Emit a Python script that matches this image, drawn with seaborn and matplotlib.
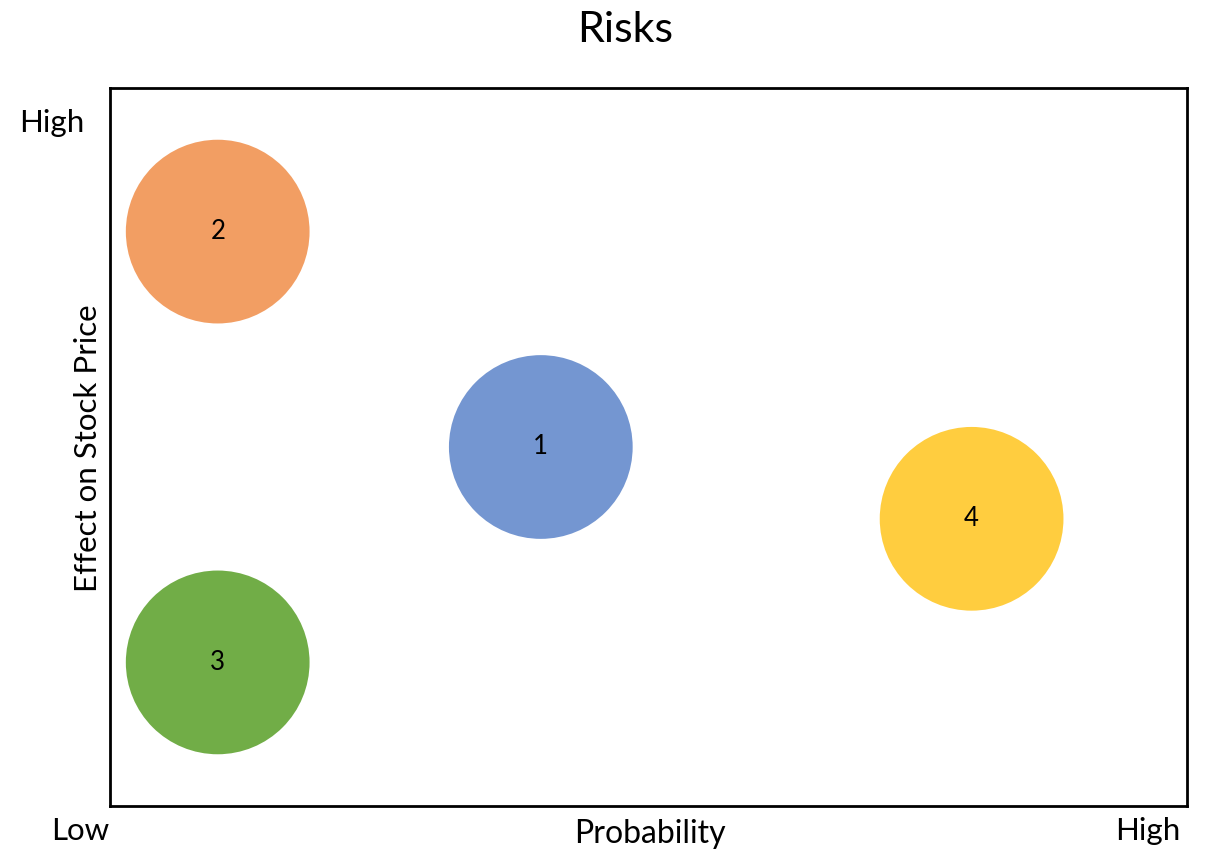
#%%
import matplotlib
matplotlib.use("Agg")
import matplotlib.pyplot as plt
import seaborn as sns
import pandas as pd

#%% data
risk_ids = ["1", "2", "3", "4"]
probability = [4, 1, 1, 8]
effect = [5, 8, 2, 4]
colors = ["#7496D1", "#F29E63", "#71AD47", "#FFCD3F"]

df = pd.DataFrame({"risk": risk_ids, "probability": probability, "effect": effect})

#%% plot
sns.set_style("white")
plt.rcParams["font.family"] = ["Lato", "DejaVu Sans"]
plt.rcParams["text.color"] = "black"

W, H = 1205, 852
fig = plt.figure(figsize=(W / 100, H / 100), dpi=100)
ax = fig.add_axes([110 / W, 46 / H, 1077 / W, 718 / H])

sns.scatterplot(data=df, x="probability", y="effect", hue="risk",
                palette=colors, s=17500, linewidth=0, alpha=1,
                legend=False, ax=ax, zorder=3)

for _, row in df.iterrows():
    ax.text(row["probability"], row["effect"], row["risk"],
            ha="center", va="center", fontsize=18.5, color="black", zorder=4)

ax.set_xlim(0, 10)
ax.set_ylim(0, 10)
ax.set_xticks([])
ax.set_yticks([])
ax.set_xlabel("")
ax.set_ylabel("")
for sp in ax.spines.values():
    sp.set_visible(True)
    sp.set_color("black")
    sp.set_linewidth(2)

# text around the frame
fig.text(625 / W, 1 - 30 / H, "Risks", ha="center", va="center", fontsize=31)
fig.text(52 / W, 1 - 123 / H, "High", ha="center", va="center", fontsize=22.5)
fig.text(80 / W, 1 - 831 / H, "Low", ha="center", va="center", fontsize=22.5)
fig.text(1148 / W, 1 - 831 / H, "High", ha="center", va="center", fontsize=22.5)
fig.text(650 / W, 1 - 834 / H, "Probability", ha="center", va="center", fontsize=23)
fig.text(88 / W, 1 - 448 / H, "Effect on Stock Price", ha="center", va="center",
         rotation=90, fontsize=22.5)

fig.savefig("out.png", dpi=100)
